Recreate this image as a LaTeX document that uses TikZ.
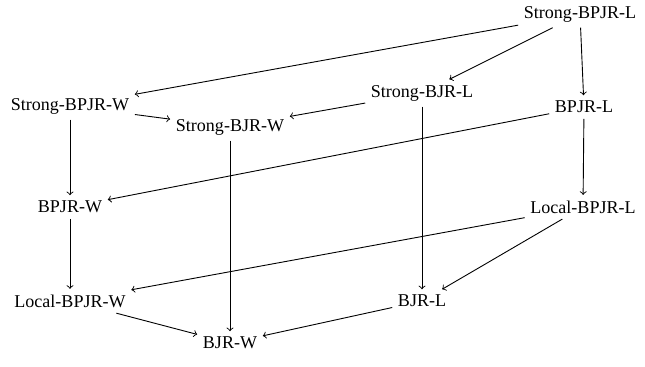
\documentclass[tikz,border=0pt]{standalone}
\usepackage{fontspec}
\setmainfont{Liberation Serif}
\usepackage{tikz}
\tikzset{>=to,
    prop/.style={inner sep=3pt, font=\fontsize{10}{12}\selectfont},
    impl/.style={->, line width=0.5pt}}

\begin{document}
\begin{tikzpicture}[x=0.555pt, y=-0.555pt]
    \useasboundingbox (0,0) rectangle (645,366);
    % top layer
    \node[prop] (sbpjrl) at (580, 14) {Strong-BPJR-L};
    \node[prop] (sbpjrw) at (70, 106) {Strong-BPJR-W};
    \node[prop] (sbjrl) at (422, 93) {Strong-BJR-L};
    \node[prop] (bpjrl) at (584, 107) {BPJR-L};
    \node[prop] (sbjrw) at (230, 127) {Strong-BJR-W};
    % middle
    \node[prop] (bpjrw) at (70, 207) {BPJR-W};
    \node[prop] (lbpjrl) at (583, 207) {Local-BPJR-L};
    % bottom
    \node[prop] (lbpjrw) at (70, 301) {Local-BPJR-W};
    \node[prop] (bjrl) at (422, 301) {BJR-L};
    \node[prop] (bjrw) at (230, 343) {BJR-W};

    \draw[impl] (sbpjrl) -- (sbpjrw);
    \draw[impl] (sbpjrl) -- (sbjrl);
    \draw[impl] (sbpjrl) -- (bpjrl);
    \draw[impl] (sbpjrw) -- (sbjrw);
    \draw[impl] (sbjrl) -- (sbjrw);
    \draw[impl] (sbpjrw) -- (bpjrw);
    \draw[impl] (sbjrw) -- (bjrw);
    \draw[impl] (sbjrl) -- (bjrl);
    \draw[impl] (bpjrl) -- (bpjrw);
    \draw[impl] (bpjrl) -- (lbpjrl);
    \draw[impl] (bpjrw) -- (lbpjrw);
    \draw[impl] (lbpjrl) -- (lbpjrw);
    \draw[impl] (lbpjrl) -- (bjrl);
    \draw[impl] (lbpjrw) -- (bjrw);
    \draw[impl] (bjrl) -- (bjrw);
\end{tikzpicture}
\end{document}
